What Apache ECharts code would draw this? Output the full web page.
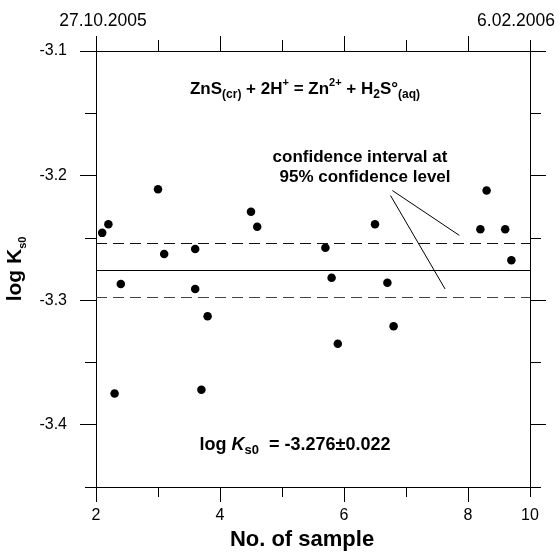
<!DOCTYPE html>
<html>
<head>
<meta charset="utf-8">
<title>log Ks0 of ZnS by sample</title>
<script src="https://cdn.jsdelivr.net/npm/echarts@6/dist/echarts.min.js"></script>
<style>
  html, body { margin: 0; padding: 0; background: #fff; }
  #chart { width: 560px; height: 560px; }
</style>
</head>
<body>
<div id="chart"></div>
<script>
// measured values: sample number and log Ks0
var sampleNo = [2.1, 2.2, 2.3, 2.4, 3.0, 3.1, 3.6, 3.6, 3.7, 3.8, 4.5, 4.6,
                5.7, 5.8, 5.9, 6.5, 6.7, 6.8, 8.2, 8.3, 8.6, 8.7];
var logKs0 = [-3.246, -3.239, -3.375, -3.287, -3.211, -3.263, -3.259, -3.291, -3.372, -3.313, -3.229, -3.241,
              -3.258, -3.282, -3.335, -3.239, -3.286, -3.321, -3.243, -3.212, -3.243, -3.268];

// mean and half width of the 95% confidence interval
var meanLogK = -3.276;
var ci95 = 0.022;

// axes
var xMajorTicks = [2, 4, 6, 8];
var xMinorTicks = [3, 5, 7, 9];
var xLabelPos = [2, 4, 6, 8, 9];
var xTickLabels = ['2', '4', '6', '8', '10'];
var yMajorTicks = [-3.4, -3.3, -3.2, -3.1];
var yMinorTicks = [-3.45, -3.35, -3.25, -3.15];
var dateLabels = ['27.10.2005', '6.02.2006'];

var FONT = 'Liberation Sans, Arial, sans-serif';
var chart = echarts.init(document.getElementById('chart'));

var points = sampleNo.map(function (x, i) { return [x, logKs0[i]]; });

function tickAxis(grid, pos, ticks, len, showLine) {
    return {
        type: 'value',
        gridIndex: grid,
        position: pos,
        min: pos === 'left' || pos === 'right' ? -3.45 : 2,
        max: pos === 'left' || pos === 'right' ? -3.1 : 9,
        axisLine: { show: showLine, onZero: false, lineStyle: { color: '#000', width: 1 } },
        axisTick: { show: true, inside: false, length: len, customValues: ticks,
                    lineStyle: { color: '#000', width: 1 } },
        axisLabel: { show: false },
        splitLine: { show: false }
    };
}

var xBottom = tickAxis(0, 'bottom', xMajorTicks, 15, true);
xBottom.axisLabel = {
    show: true, customValues: xLabelPos, margin: 21,
    fontFamily: FONT, fontSize: 16, color: '#000',
    formatter: function (v) { return xTickLabels[xLabelPos.indexOf(v)]; }
};
xBottom.name = 'No. of sample';
xBottom.nameLocation = 'middle';
xBottom.nameGap = 42;
xBottom.nameTextStyle = { fontFamily: FONT, fontSize: 22, fontWeight: 'bold', color: '#000',
                          padding: [0, 22, 0, 0] };

var yLeft = tickAxis(0, 'left', yMajorTicks, 16, true);
yLeft.axisLabel = {
    show: true, customValues: yMajorTicks, margin: 29,
    fontFamily: FONT, fontSize: 16, color: '#000',
    formatter: function (v) { return v.toFixed(1); }
};
yLeft.name = '{m|log K}{s|s0}';
yLeft.nameLocation = 'middle';
yLeft.nameGap = 58;
yLeft.nameTextStyle = {
    rich: {
        m: { fontFamily: FONT, fontSize: 21, fontWeight: 'bold', color: '#000', lineHeight: 26 },
        s: { fontFamily: FONT, fontSize: 11, fontWeight: 'bold', color: '#000', lineHeight: 11,
             verticalAlign: 'bottom' }
    }
};

var sub = { fontFamily: FONT, fontSize: 12, fontWeight: 'bold', fill: '#000', lineHeight: 10, verticalAlign: 'bottom' };
var sup = { fontFamily: FONT, fontSize: 11, fontWeight: 'bold', fill: '#000', lineHeight: 10, verticalAlign: 'top' };
var mainTxt = { fontFamily: FONT, fontSize: 17, fontWeight: 'bold', fill: '#000', lineHeight: 24 };

var option = {
    animation: false,
    backgroundColor: '#fff',
    grid: [
        { left: 96, right: 30, top: 51, bottom: 73, outerBoundsMode: 'none' },
        { left: 96, right: 30, top: 51, bottom: 73, outerBoundsMode: 'none' }
    ],
    xAxis: [
        xBottom,
        tickAxis(0, 'top', xMajorTicks, 15, true),
        tickAxis(1, 'bottom', xMinorTicks, 10, false),
        tickAxis(1, 'top', xMinorTicks, 11, false)
    ],
    yAxis: [
        yLeft,
        tickAxis(0, 'right', yMajorTicks, 16, true),
        tickAxis(1, 'left', yMinorTicks, 11, false),
        tickAxis(1, 'right', yMinorTicks, 11, false)
    ],
    series: [
        {
            type: 'scatter',
            xAxisIndex: 0,
            yAxisIndex: 0,
            symbolSize: 8.5,
            itemStyle: { color: '#000', opacity: 1 },
            data: points,
            markLine: {
                silent: true,
                precision: 4,
                symbol: ['none', 'none'],
                label: { show: false },
                lineStyle: { color: '#000', width: 1, type: 'solid' },
                data: [
                    { yAxis: meanLogK },
                    { yAxis: meanLogK + ci95, lineStyle: { type: [11, 6], color: '#111' } },
                    { yAxis: meanLogK - ci95, lineStyle: { type: [11, 6], color: '#444' } },
                    // pointers from the note to the dashed lines
                    [{ coord: [6.78, -3.212] }, { coord: [7.86, -3.248] }],
                    [{ coord: [6.75, -3.216] }, { coord: [7.63, -3.291] }]
                ]
            }
        }
    ],
    graphic: [
        { type: 'text', x: 103, y: 21,
          style: { text: dateLabels[0], font: '17.5px ' + FONT, fill: '#000', align: 'center', verticalAlign: 'middle' } },
        { type: 'text', x: 516, y: 21,
          style: { text: dateLabels[1], font: '17.5px ' + FONT, fill: '#000', align: 'center', verticalAlign: 'middle' } },
        { type: 'text', x: 305, y: 89,
          style: {
              text: '{m|ZnS}{b|(cr)}{m| + 2H}{p|+}{m| = Zn}{p|2+}{m| + H}{b|2}{m|S°}{b|(aq)}',
              align: 'center', verticalAlign: 'middle',
              rich: { m: mainTxt, b: sub, p: sup }
          } },
        { type: 'text', x: 360, y: 157,
          style: { text: 'confidence interval at', font: 'bold 17px ' + FONT, fill: '#000',
                   align: 'center', verticalAlign: 'middle' } },
        { type: 'text', x: 365, y: 177,
          style: { text: '95% confidence level', font: 'bold 17px ' + FONT, fill: '#000',
                   align: 'center', verticalAlign: 'middle' } },
        { type: 'text', x: 295, y: 445,
          style: {
              text: '{m|log }{k|K}{b|s0}{m|  = -3.276±0.022}',
              align: 'center', verticalAlign: 'middle',
              rich: {
                  m: { fontFamily: FONT, fontSize: 18, fontWeight: 'bold', fill: '#000', lineHeight: 24 },
                  k: { fontFamily: FONT, fontSize: 18, fontWeight: 'bold', fontStyle: 'italic', fill: '#000', lineHeight: 24 },
                  b: { fontFamily: FONT, fontSize: 13, fontWeight: 'bold', fill: '#000', lineHeight: 10, verticalAlign: 'bottom' }
              }
          } }
    ]
};

chart.setOption(option);
</script>
</body>
</html>
